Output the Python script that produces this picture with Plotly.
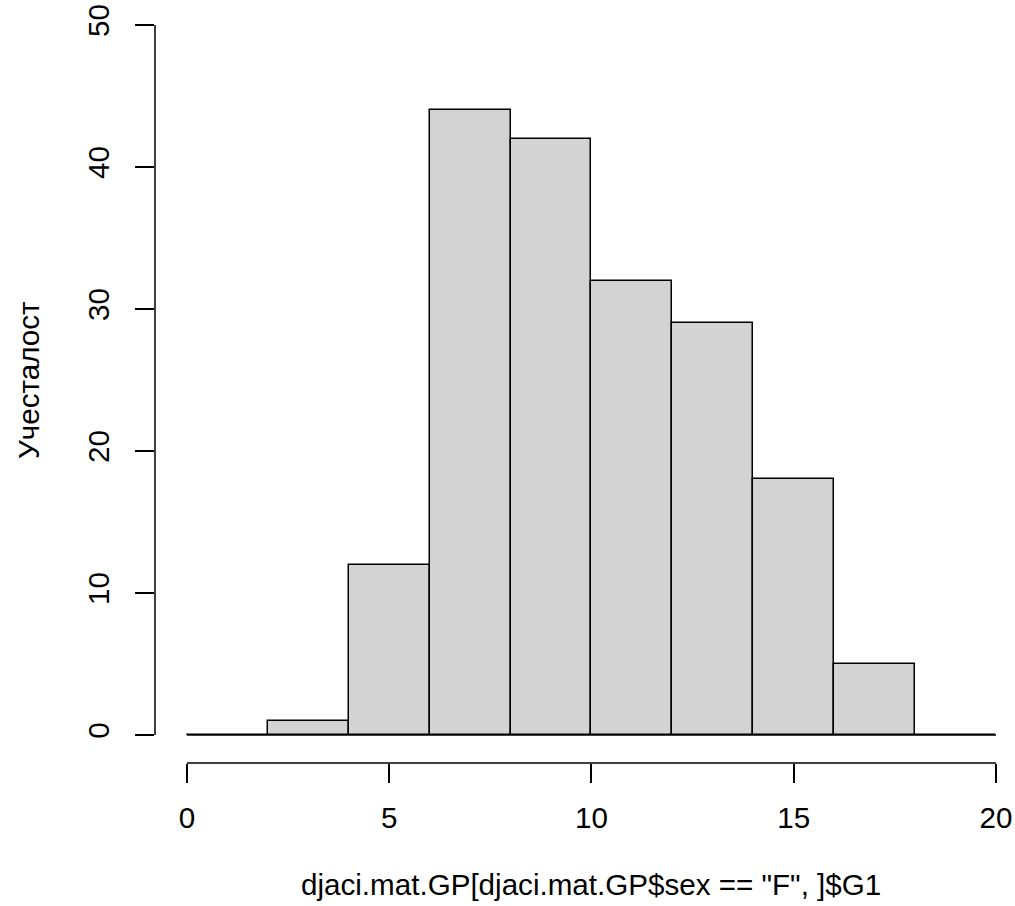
import plotly.graph_objects as go

# Histogram data (R hist, breaks of width 2)
bin_edges = [0, 2, 4, 6, 8, 10, 12, 14, 16, 18, 20]
counts = [0, 1, 12, 44, 42, 32, 29, 18, 5, 0]
x_ticks = [0, 5, 10, 15, 20]
y_ticks = [0, 10, 20, 30, 40, 50]
x_label = 'djaci.mat.GP[djaci.mat.GP$sex == "F", ]$G1'
y_label = "Учесталост"

centers = [(a + b) / 2 for a, b in zip(bin_edges[:-1], bin_edges[1:])]
widths = [b - a for a, b in zip(bin_edges[:-1], bin_edges[1:])]

FONT = "Liberation Sans, Arial, sans-serif"
FS = 29.6

fig = go.Figure()
# zero-height bins appear as a baseline in R
fig.add_trace(go.Scatter(x=[bin_edges[0], bin_edges[-1]], y=[0, 0], mode="lines",
                         line=dict(color="black", width=1.5), hoverinfo="skip", showlegend=False))
fig.add_trace(go.Bar(x=centers, y=counts, width=widths,
                     marker=dict(color="#D3D3D3", line=dict(color="black", width=1.5)),
                     showlegend=False))

fig.update_layout(
    width=1015, height=906,
    margin=dict(l=155, r=7, t=11, b=143),
    plot_bgcolor="white", paper_bgcolor="white",
    font=dict(family=FONT, size=FS, color="black"),
    bargap=0,
    xaxis=dict(range=[-0.791, 20.297], tickvals=x_ticks, ticktext=[str(v) for v in x_ticks],
               ticks="outside", ticklen=19, tickwidth=1.5, tickcolor="black",
               showgrid=False, zeroline=False, showline=False, automargin=False,
               tickfont=dict(family=FONT, size=FS, color="black"),
               ticklabelstandoff=9, ticklabeloverflow="allow"),
    yaxis=dict(range=[-1.972, 50.986], tickvals=y_ticks, ticktext=[str(v) for v in y_ticks],
               ticks="outside", ticklen=19, tickwidth=1.5, tickcolor="black",
               showgrid=False, zeroline=False, showline=False, tickangle=-90, automargin=False,
               tickfont=dict(family=FONT, size=FS, color="black"),
               ticklabelstandoff=14, ticklabeloverflow="allow"),
)

# axis lines (R style, only spanning the tick range)
fig.add_shape(type="line", xref="x", yref="paper", x0=x_ticks[0], x1=x_ticks[-1], y0=0, y1=0,
              line=dict(color="black", width=1.5))
fig.add_shape(type="line", xref="paper", yref="y", x0=0, x1=0, y0=y_ticks[0], y1=y_ticks[-1],
              line=dict(color="black", width=1.5))

# axis titles
fig.add_annotation(text=x_label, xref="x", yref="paper", x=10, y=-(885 - 763) / 752,
                   showarrow=False, xanchor="center", yanchor="middle",
                   font=dict(family=FONT, size=FS, color="black"))
fig.add_annotation(text=y_label, xref="paper", yref="y", x=-(155 - 28) / 853, y=25,
                   showarrow=False, xanchor="center", yanchor="middle", textangle=-90,
                   font=dict(family=FONT, size=FS, color="black"))

fig.write_html("out.html")
